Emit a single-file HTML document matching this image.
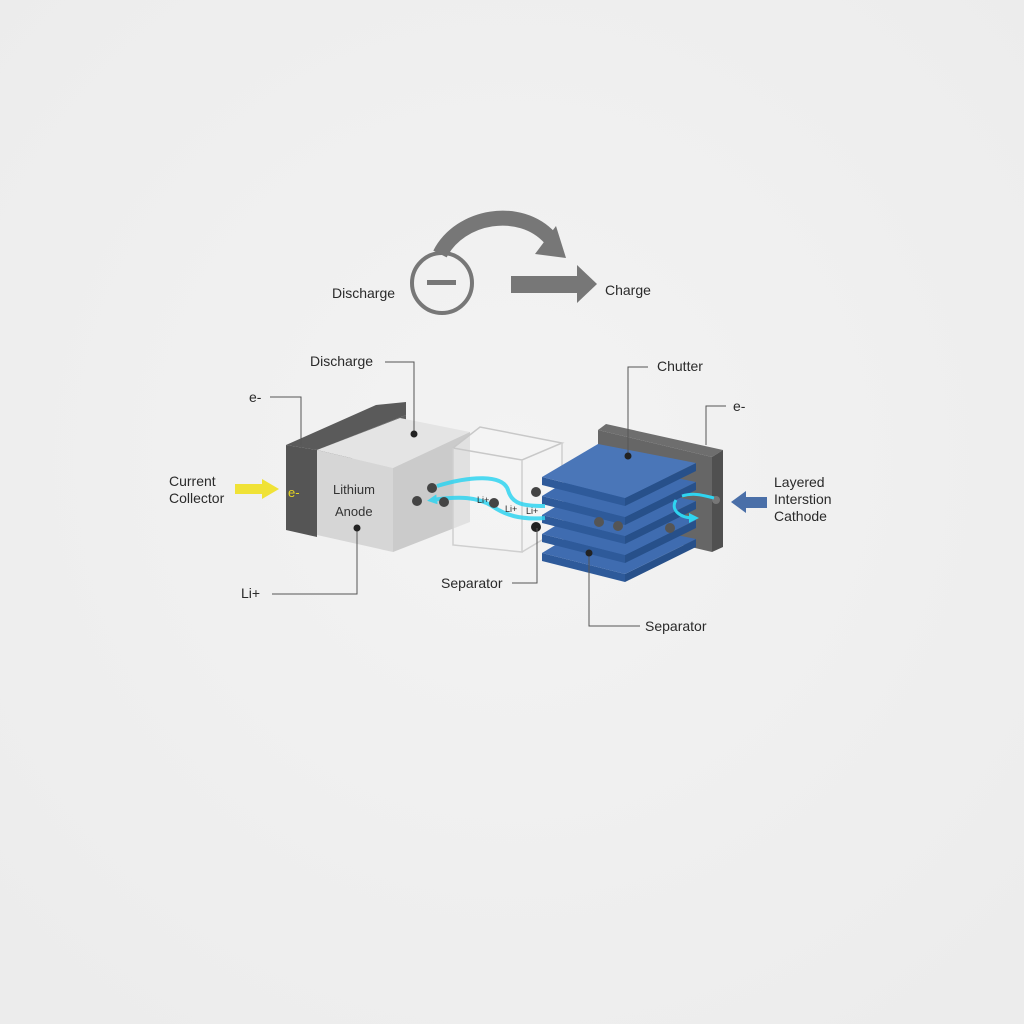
<!DOCTYPE html>
<html><head><meta charset="utf-8"><style>
html,body{margin:0;padding:0;background:#efefef}
svg{display:block}
text{font-family:"Liberation Sans",sans-serif;fill:#2a2a2a}
</style></head><body>
<svg width="1024" height="1024" viewBox="0 0 1024 1024" xmlns="http://www.w3.org/2000/svg">
<defs>
<radialGradient id="bg" cx="50%" cy="45%" r="70%"><stop offset="0" stop-color="#f3f3f3"/><stop offset="1" stop-color="#ececec"/></radialGradient>
<marker id="ca" markerUnits="userSpaceOnUse" markerWidth="10" markerHeight="10" refX="5" refY="5" orient="auto"><path d="M0,0 L10,5 L0,10 Z" fill="#2fd4f0"/></marker>
</defs>
<rect width="1024" height="1024" fill="url(#bg)"/>

<!-- top -->
<circle cx="442" cy="283" r="30" fill="none" stroke="#777" stroke-width="4"/>
<rect x="427" y="280" width="29" height="5" fill="#777"/>
<path d="M440,254 C460,215 520,205 550,238" fill="none" stroke="#777" stroke-width="15"/>
<polygon points="556,226 566,258 535,254" fill="#777"/>
<rect x="511" y="276" width="68" height="17" fill="#777"/>
<polygon points="577,265 597,284 577,303" fill="#777"/>
<text x="332" y="298" font-size="14">Discharge</text>
<text x="605" y="295" font-size="14">Charge</text>

<!-- left collector -->
<polygon points="286,445 376,405 406,402 406,415 317,450" fill="#5a5a5a"/>
<polygon points="286,445 317,450 317,537 286,530" fill="#555"/>
<polygon points="317,450 406,415 406,440 317,470" fill="#606060"/>
<!-- anode -->
<polygon points="317,450 400,418 470,432 393,468" fill="#e4e4e4"/>
<polygon points="317,450 393,468 393,552 317,535" fill="#d6d6d6"/>
<polygon points="393,468 470,432 470,522 393,552" fill="#cbcbcb"/>
<!-- separator cube -->
<polygon points="480,427 562,443 562,528 522,552 453,545 453,448" fill="#f4f4f4" fill-opacity="0.55"/>
<polyline points="453,448 480,427 562,443 522,460 453,448" fill="none" stroke="#c8c8c8" stroke-width="1.5"/>
<polyline points="522,460 522,552 453,545 453,448" fill="none" stroke="#cfcfcf" stroke-width="1.5"/>
<polyline points="562,443 562,528 522,552" fill="none" stroke="#cfcfcf" stroke-width="1.5"/>

<!-- cathode collector -->
<polygon points="598,430 606,424 723,450 712,457" fill="#6e6e6e"/>
<polygon points="598,430 712,457 712,552 598,525" fill="#666"/>
<polygon points="712,457 723,450 723,547 712,552" fill="#505050"/>
<!-- plates -->
<g>
<polygon points="542,553 625,574 625,582 542,561" fill="#2e5a9a"/>
<polygon points="625,574 696,539 696,547 625,582" fill="#27508a"/>
<polygon points="542,553 598,519 696,539 625,574" fill="#3f6cb0"/>
</g>
<g>
<polygon points="542,534 625,555 625,563 542,542" fill="#2e5a9a"/>
<polygon points="625,555 696,520 696,528 625,563" fill="#27508a"/>
<polygon points="542,534 598,500 696,520 625,555" fill="#3f6cb0"/>
</g>
<g>
<polygon points="542,515 625,536 625,544 542,523" fill="#2e5a9a"/>
<polygon points="625,536 696,501 696,509 625,544" fill="#27508a"/>
<polygon points="542,515 598,481 696,501 625,536" fill="#3f6cb0"/>
</g>
<g>
<polygon points="542,496 625,517 625,525 542,504" fill="#2e5a9a"/>
<polygon points="625,517 696,482 696,490 625,525" fill="#27508a"/>
<polygon points="542,496 598,462 696,482 625,517" fill="#3f6cb0"/>
</g>
<g>
<polygon points="542,477 625,498 625,506 542,485" fill="#2e5a9a"/>
<polygon points="625,498 696,463 696,471 625,506" fill="#27508a"/>
<polygon points="542,477 598,444 696,463 625,498" fill="#4a76b8"/>
</g>
<circle cx="599" cy="522" r="5" fill="#555"/>
<circle cx="618" cy="526" r="5" fill="#555"/>
<circle cx="670" cy="528" r="5" fill="#555"/>
<circle cx="716" cy="500" r="4" fill="#777"/>
<path d="M682,496 C695,492 705,496 714,498" fill="none" stroke="#2fd4f0" stroke-width="3"/>
<path d="M676,500 C670,510 680,518 694,518" fill="none" stroke="#2fd4f0" stroke-width="3" marker-end="url(#ca)"/>

<!-- ions -->
<path d="M437,486 C470,476 503,474 508,490 C512,505 525,506 545,506" fill="none" stroke="#2fd4f0" stroke-width="4" opacity="0.85"/>
<path d="M545,518 C520,520 505,515 492,506 C478,497 460,496 432,500" fill="none" stroke="#2fd4f0" stroke-width="4" opacity="0.85" marker-end="url(#ca)"/>
<circle cx="432" cy="488" r="5" fill="#444"/>
<circle cx="417" cy="501" r="5" fill="#444"/>
<circle cx="444" cy="502" r="5" fill="#444"/>
<circle cx="494" cy="503" r="5" fill="#444"/>
<circle cx="536" cy="492" r="5" fill="#444"/>
<circle cx="536" cy="527" r="5" fill="#222"/>
<text x="477" y="503" font-size="9">Li+</text>
<text x="505" y="512" font-size="9">Li+</text>
<text x="526" y="514" font-size="9">Li+</text>

<!-- labels -->
<g stroke="#555" stroke-width="1" fill="none">
<polyline points="385,362 414,362 414,432"/>
<polyline points="270,397 301,397 301,445"/>
<polyline points="357,528 357,594 272,594"/>
<polyline points="512,583 537,583 537,528"/>
<polyline points="648,367 628,367 628,456"/>
<polyline points="726,406 706,406 706,445"/>
<polyline points="640,626 589,626 589,553"/>
</g>
<circle cx="414" cy="434" r="3.5" fill="#222"/>
<circle cx="357" cy="528" r="3.5" fill="#222"/>
<circle cx="628" cy="456" r="3.5" fill="#222"/>
<circle cx="589" cy="553" r="3.5" fill="#222"/>

<text x="310" y="366" font-size="14">Discharge</text>
<text x="249" y="402" font-size="14">e-</text>
<text x="169" y="486" font-size="14">Current</text>
<text x="169" y="503" font-size="14">Collector</text>
<rect x="235" y="484" width="28" height="10" fill="#f0e236"/>
<polygon points="262,479 279,489 262,499" fill="#f0e236"/>
<text x="288" y="497" font-size="13" style="fill:#e6d520">e-</text>
<text x="333" y="494" font-size="13" style="fill:#333">Lithium</text>
<text x="335" y="516" font-size="13" style="fill:#333">Anode</text>
<text x="241" y="598" font-size="14">Li+</text>
<text x="441" y="588" font-size="14">Separator</text>
<text x="657" y="371" font-size="14">Chutter</text>
<text x="733" y="411" font-size="14">e-</text>
<text x="774" y="487" font-size="14">Layered</text>
<text x="774" y="504" font-size="14">Interstion</text>
<text x="774" y="521" font-size="14">Cathode</text>
<rect x="745" y="497" width="22" height="11" fill="#4a6fa8"/>
<polygon points="746,491 731,502 746,513" fill="#4a6fa8"/>
<text x="645" y="631" font-size="14">Separator</text>
</svg>
</body></html>
